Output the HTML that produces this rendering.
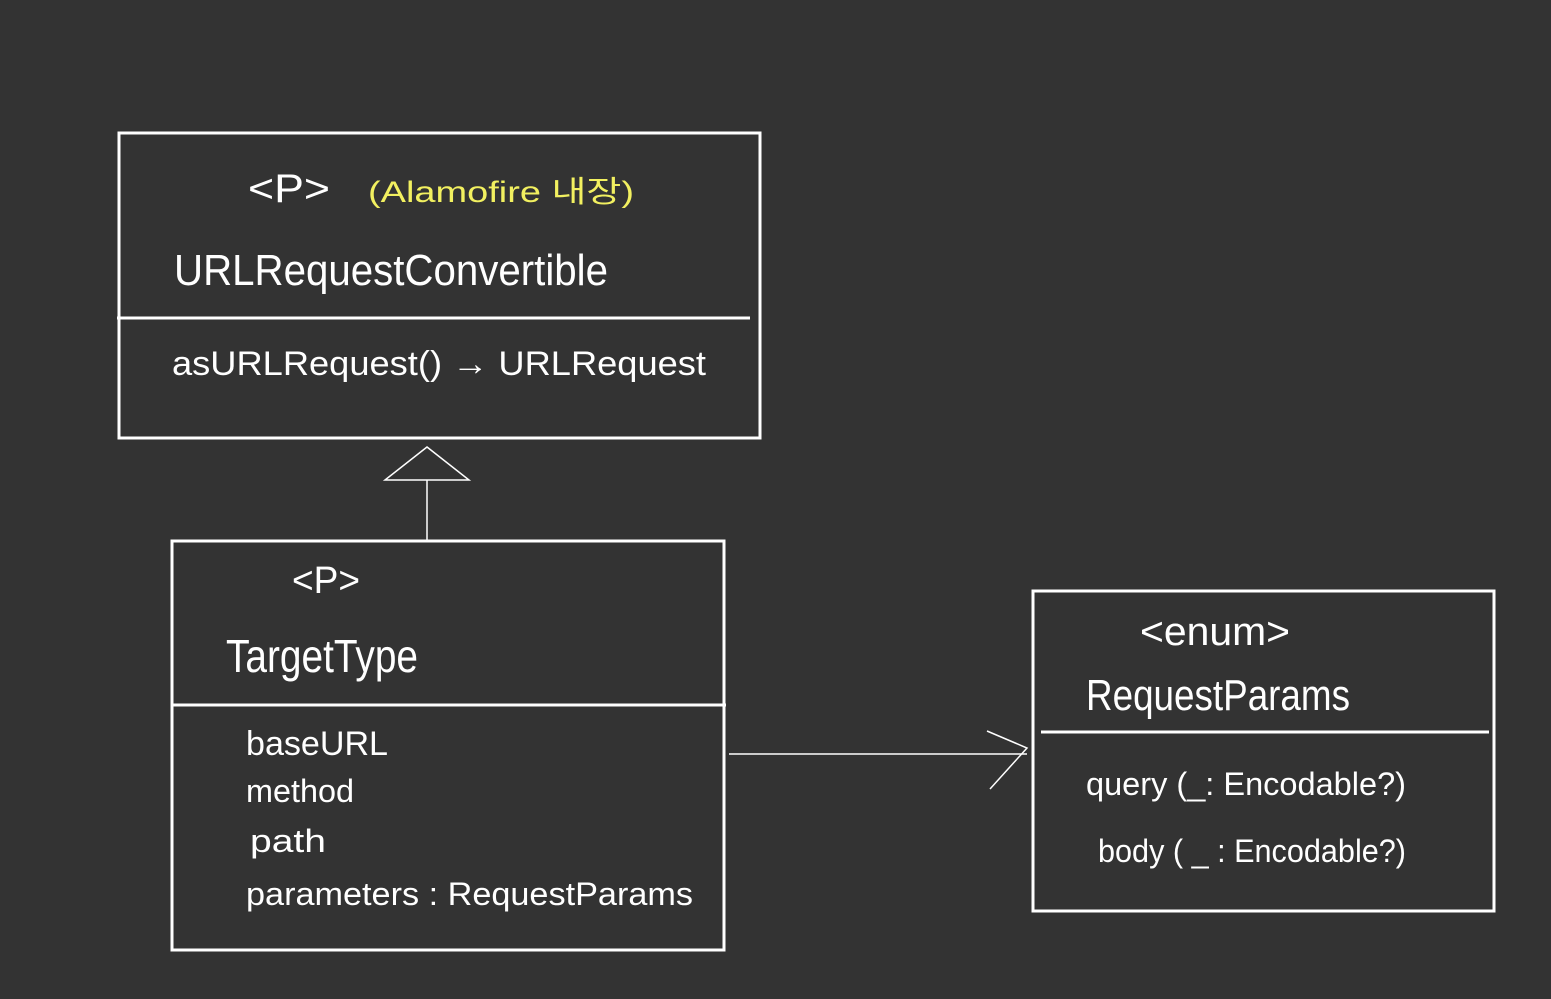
<!DOCTYPE html>
<html><head><meta charset="utf-8"><style>
html,body{margin:0;padding:0;background:#333333;}
svg{display:block}
text{font-family:"Liberation Sans","Noto Sans CJK KR",sans-serif;fill:#fff}
</style></head><body>
<svg width="1551" height="999" viewBox="0 0 1551 999" xmlns="http://www.w3.org/2000/svg">
<rect width="1551" height="999" fill="#333333"/>
<g fill="none" stroke="#fff" stroke-width="3">
<rect x="119" y="133" width="641" height="305"/>
<line x1="117" y1="318" x2="750" y2="318"/>
<rect x="172" y="541" width="552" height="409"/>
<line x1="172" y1="705" x2="726" y2="705"/>
<rect x="1033" y="591" width="461" height="320"/>
<line x1="1041" y1="732" x2="1489" y2="732"/>
</g>
<g fill="none" stroke="#fff" stroke-width="1.5">
<polygon points="427,447 385,480 469,480"/>
<line x1="427" y1="480" x2="427" y2="541"/>
<line x1="729" y1="754" x2="1027" y2="754"/>
<polyline points="987,731 1027,748 990,789"/>
</g>
<text x="248" y="202" font-size="40" textLength="82" lengthAdjust="spacingAndGlyphs">&lt;P&gt;</text>
<text x="368" y="202" font-size="30" style="fill:#f2f060" textLength="266" lengthAdjust="spacingAndGlyphs">(Alamofire 내장)</text>
<text x="174" y="285" font-size="44" textLength="434" lengthAdjust="spacingAndGlyphs">URLRequestConvertible</text>
<text x="172" y="375" font-size="34" font-weight="300" textLength="534" lengthAdjust="spacingAndGlyphs">asURLRequest()  → URLRequest</text>
<text x="292" y="593" font-size="38" textLength="68" lengthAdjust="spacingAndGlyphs">&lt;P&gt;</text>
<text x="226" y="672" font-size="46" textLength="192" lengthAdjust="spacingAndGlyphs">TargetType</text>
<text x="246" y="755" font-size="34" textLength="142" lengthAdjust="spacingAndGlyphs">baseURL</text>
<text x="246" y="802" font-size="32" textLength="108" lengthAdjust="spacingAndGlyphs">method</text>
<text x="250" y="852" font-size="32" textLength="76" lengthAdjust="spacingAndGlyphs">path</text>
<text x="246" y="905" font-size="32" textLength="447" lengthAdjust="spacingAndGlyphs">parameters :  RequestParams</text>
<text x="1140" y="645" font-size="40" textLength="150" lengthAdjust="spacingAndGlyphs">&lt;enum&gt;</text>
<text x="1086" y="710" font-size="44" textLength="264" lengthAdjust="spacingAndGlyphs">RequestParams</text>
<text x="1086" y="795" font-size="32" textLength="320" lengthAdjust="spacingAndGlyphs">query (_: Encodable?)</text>
<text x="1098" y="862" font-size="32" textLength="308" lengthAdjust="spacingAndGlyphs">body ( _ : Encodable?)</text>
</svg>
</body></html>
